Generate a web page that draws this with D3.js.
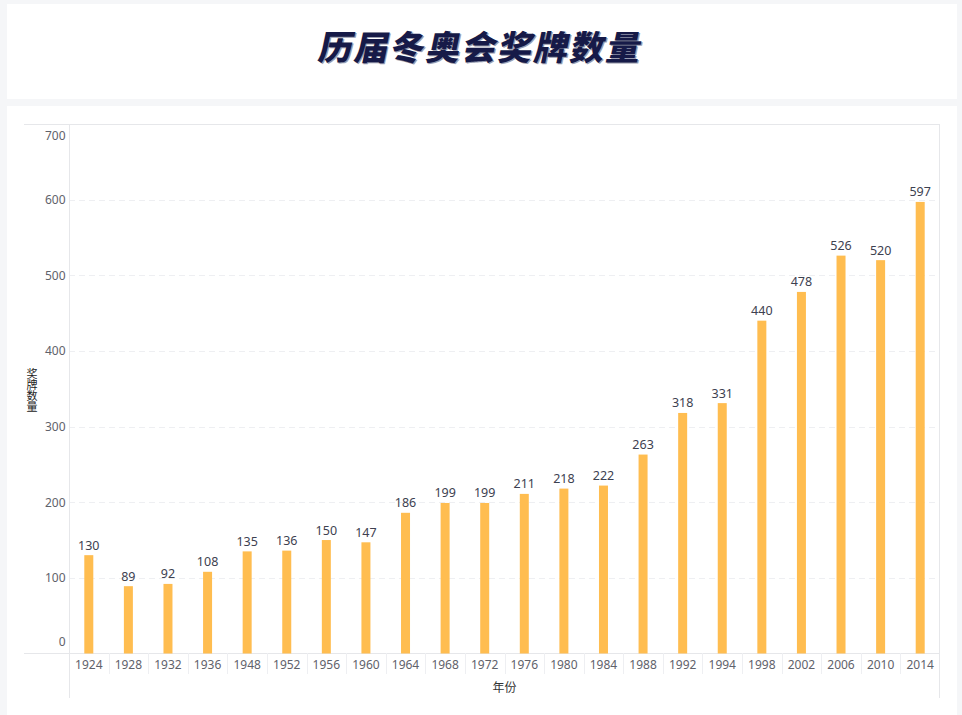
<!DOCTYPE html>
<html><head><meta charset="utf-8">
<script src="https://cdn.jsdelivr.net/npm/d3@7"></script>
<style>
html,body{margin:0;padding:0;background:#f5f6f8;}
svg{display:block;}
</style></head><body>
<svg id="c" width="962" height="715"></svg>
<script>
const title = "历届冬奥会奖牌数量";
const years = ["1924","1928","1932","1936","1948","1952","1956","1960","1964","1968","1972","1976","1980","1984","1988","1992","1994","1998","2002","2006","2010","2014"];
const medals = [130,89,92,108,135,136,150,147,186,199,199,211,218,222,263,318,331,440,478,526,520,597];
const yTicks = [0,100,200,300,400,500,600,700];
const yTitle = "奖牌数量";
const xTitle = "年份";

const svg = d3.select("#c");
svg.append("rect").attr("x",0).attr("y",0).attr("width",962).attr("height",715).attr("fill","#f5f6f8");
// panels
svg.append("rect").attr("x",7).attr("y",4).attr("width",950).attr("height",95).attr("fill","#fff");
svg.append("rect").attr("x",7).attr("y",106).attr("width",950).attr("height",620).attr("fill","#fff");

// title with shadow
const tg = svg.append("g").attr("transform","translate(482,45)");
["#9a9db0","#161a48"].forEach((col,i)=>{
  tg.append("text").attr("x", i?0:1.5).attr("y", i?0:1.2)
    .attr("text-anchor","middle").attr("dominant-baseline","central")
    .attr("transform","skewX(-12)")
    .style("font-family","'Noto Sans CJK SC'").style("font-weight",900)
    .style("font-size","34px").style("letter-spacing","2px")
    .attr("fill",col).text(title);
});

const L=69, R=940, T=124, B=653.5;
const x = d3.scaleBand().domain(years).range([L,R]);
const y = d3.scaleLinear().domain([0,700]).range([B,T]);
const lineCol = "#e6e7ea";

// gridlines
svg.append("g").selectAll("line").data(yTicks.filter(d=>d>0&&d<700)).join("line")
  .attr("x1",L).attr("x2",R).attr("y1",d=>Math.round(y(d))+0.5).attr("y2",d=>Math.round(y(d))+0.5)
  .attr("stroke","#eeeff2").attr("stroke-dasharray","6,4");

// frame lines
svg.append("line").attr("x1",24).attr("x2",R).attr("y1",124.5).attr("y2",124.5).attr("stroke",lineCol);
svg.append("line").attr("x1",24).attr("x2",R).attr("y1",653.5).attr("y2",653.5).attr("stroke",lineCol);
svg.append("line").attr("x1",69.5).attr("x2",69.5).attr("y1",124).attr("y2",698).attr("stroke",lineCol);
svg.append("line").attr("x1",939.5).attr("x2",939.5).attr("y1",124).attr("y2",698).attr("stroke",lineCol);

// x separators
svg.append("g").selectAll("line").data(years.slice(1)).join("line")
  .attr("x1",d=>Math.round(x(d))+0.5).attr("x2",d=>Math.round(x(d))+0.5)
  .attr("y1",653).attr("y2",674).attr("stroke","#eeeff2");

// y labels
svg.append("g").selectAll("text").data(yTicks).join("text")
  .attr("x",65.5)
  .attr("y",d=> d===0 ? y(d)-12.5 : (d===700 ? y(d)+11.5 : y(d)))
  .attr("text-anchor","end").attr("dominant-baseline","central")
  .style("font-family","'Noto Sans', sans-serif").style("font-size","12px")
  .attr("fill","#5f626b").text(d=>d);

// x labels
svg.append("g").selectAll("text").data(years).join("text")
  .attr("x",d=>x(d)+x.bandwidth()/2).attr("y",664)
  .attr("text-anchor","middle").attr("dominant-baseline","central")
  .style("font-family","'Noto Sans', sans-serif").style("font-size","12px")
  .attr("fill","#5f626b").text(d=>d);

// bars
const bw = 9;
svg.append("g").selectAll("rect").data(medals).join("rect")
  .attr("x",(d,i)=>x(years[i])+x.bandwidth()/2-bw/2)
  .attr("y",d=>y(d)).attr("width",bw).attr("height",d=>B-y(d))
  .attr("fill","#ffbd50");

// value labels
svg.append("g").selectAll("text").data(medals).join("text")
  .attr("x",(d,i)=>x(years[i])+x.bandwidth()/2).attr("y",d=>y(d)-10)
  .attr("text-anchor","middle").attr("dominant-baseline","central")
  .style("font-family","'Noto Sans', sans-serif").style("font-size","12.5px")
  .attr("fill","#3d4150").text(d=>d);

// y title (vertical, upright chars)
svg.append("text").attr("x",32).attr("y",390)
  .attr("text-anchor","middle")
  .style("writing-mode","vertical-rl")
  .style("font-family","'Noto Sans CJK SC'").style("font-size","11px")
  .attr("fill","#222").text(yTitle);

// x title
svg.append("text").attr("x",(L+R)/2).attr("y",686)
  .attr("text-anchor","middle").attr("dominant-baseline","central")
  .style("font-family","'Noto Sans CJK SC'").style("font-size","12px")
  .attr("fill","#333").text(xTitle);
</script>
</body></html>
